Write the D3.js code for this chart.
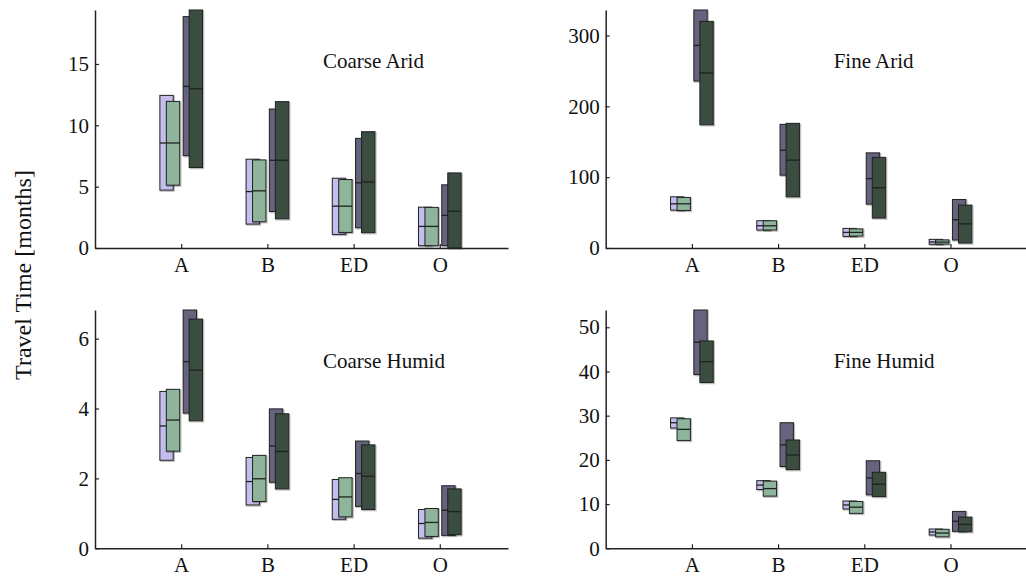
<!DOCTYPE html>
<html>
<head>
<meta charset="utf-8">
<script src="https://cdn.jsdelivr.net/npm/d3@7"></script>
<style>
body { margin: 0; background: #fff; }
text { font-family: "Liberation Serif", "Times New Roman", serif; fill: #111; }
</style>
</head>
<body>
<div id="chart"></div>
<script>
// categories on the x axis
var categories = ["A", "B", "ED", "O"];

// each panel: 4 series (light purple, light green, dark purple, dark green),
// each with [low, median, high] per category
var coarseArid = [
  [[4.72, 8.56, 12.44], [1.95, 4.60, 7.24], [1.11, 3.41, 5.69], [0.19, 1.76, 3.33]],
  [[5.12, 8.56, 11.95], [2.14, 4.66, 7.18], [1.27, 3.41, 5.58], [0.19, 1.76, 3.31]],
  [[7.53, 13.17, 18.86], [2.98, 7.15, 11.33], [1.65, 5.31, 8.94], [0.19, 2.66, 5.15]],
  [[6.56, 12.98, 19.40], [2.38, 7.15, 11.93], [1.25, 5.39, 9.48], [0.0, 3.00, 6.12]]
];
var fineArid = [
  [[53.5, 62.4, 72.3], [25.4, 31.4, 38.5], [16.4, 22.0, 27.7], [5.2, 8.5, 12.2]],
  [[53.0, 62.4, 71.4], [25.4, 31.4, 38.5], [16.8, 22.0, 27.0], [5.5, 8.3, 11.5]],
  [[235.7, 286, 336], [102.8, 138, 174.6], [62, 98, 134.3], [11.3, 40, 68.5]],
  [[174, 247, 320], [72.3, 124, 176], [42.3, 85, 128], [7, 34, 60.6]]
];
var coarseHumid = [
  [[2.52, 3.50, 4.49], [1.24, 1.91, 2.60], [0.83, 1.40, 1.97], [0.29, 0.71, 1.11]],
  [[2.78, 3.67, 4.55], [1.34, 1.99, 2.66], [0.90, 1.47, 2.02], [0.34, 0.74, 1.14]],
  [[3.87, 5.34, 6.82], [1.89, 2.93, 3.99], [1.20, 2.14, 3.07], [0.37, 1.09, 1.79]],
  [[3.65, 5.10, 6.56], [1.70, 2.77, 3.85], [1.11, 2.06, 2.96], [0.39, 1.05, 1.70]]
];
var fineHumid = [
  [[27.2, 28.4, 29.5], [13.3, 14.3, 15.3], [8.9, 9.8, 10.7], [3.0, 3.7, 4.36]],
  [[24.4, 26.9, 29.3], [11.8, 13.5, 15.2], [7.9, 9.3, 10.6], [2.6, 3.45, 4.3]],
  [[39.3, 46.6, 53.9], [18.5, 23.4, 28.4], [12.1, 15.9, 19.8], [3.84, 6.1, 8.35]],
  [[37.5, 42.2, 46.9], [17.8, 21.1, 24.5], [11.7, 14.5, 17.2], [3.75, 5.4, 7.07]]
];

var panelTitles = ["Coarse Arid", "Fine Arid", "Coarse Humid", "Fine Humid"];
var panelTicks = [[0, 5, 10, 15], [0, 100, 200, 300], [0, 2, 4, 6], [0, 10, 20, 30, 40, 50]];
var yLabel = "Travel Time [months]";

var colors = ["#c4bdee", "#8eb59b", "#67637e", "#3b4c40"];
var offsets = [-0.17, -0.095, 0.1, 0.17];
var boxW = 0.155;

// panel placement (pixel boxes of the axes)
var panels = [
  {data: coarseArid, left: 95, right: 508, top: 10, bottom: 248},
  {data: fineArid, left: 605.7, right: 1026, top: 10, bottom: 248},
  {data: coarseHumid, left: 95, right: 508, top: 310, bottom: 548.3},
  {data: fineHumid, left: 605.7, right: 1026, top: 310, bottom: 548.3}
];

var svg = d3.select("#chart").append("svg")
  .attr("width", 1026)
  .attr("height", 579);

var unit = 86.2; // px per category step
var fontFam = "'Liberation Serif', 'Times New Roman', serif";

panels.forEach(function(p, pi) {
  var x = d3.scaleLinear()
    .domain([0, (p.right - p.left) / unit])
    .range([p.left, p.right]);
  var ymax = d3.max(p.data, s => d3.max(s, d => d[2]));
  var y = d3.scaleLinear().domain([0, ymax]).range([p.bottom, p.top]);

  var g = svg.append("g");

  p.data.forEach(function(series, si) {
    var boxes = g.selectAll(".box" + si)
      .data(series)
      .enter().append("g")
      .attr("class", "box" + si);

    // faint drop shadow
    boxes.append("rect")
      .attr("x", (d, i) => x(i + 1 + offsets[si] - boxW / 2) + 1)
      .attr("y", d => y(d[2]) + 1)
      .attr("width", x(boxW) - x(0))
      .attr("height", d => y(d[0]) - y(d[2]))
      .style("fill", "none")
      .style("stroke", "rgba(0,0,0,0.25)")
      .style("stroke-width", 1.5);

    boxes.append("rect")
      .attr("x", (d, i) => x(i + 1 + offsets[si] - boxW / 2))
      .attr("y", d => y(d[2]))
      .attr("width", x(boxW) - x(0))
      .attr("height", d => y(d[0]) - y(d[2]))
      .style("fill", colors[si])
      .style("stroke", "#1e221f")
      .style("stroke-width", 1);

    boxes.append("line")
      .attr("x1", (d, i) => x(i + 1 + offsets[si] - boxW / 2))
      .attr("x2", (d, i) => x(i + 1 + offsets[si] + boxW / 2))
      .attr("y1", d => y(d[1]))
      .attr("y2", d => y(d[1]))
      .style("stroke", "#1e221f")
      .style("stroke-width", 1.3);
  });

  // y axis
  var ya = g.append("g")
    .attr("transform", "translate(" + p.left + ",0)")
    .attr("font-family", fontFam)
    .call(d3.axisLeft(y).tickValues(panelTicks[pi]).tickFormat(d3.format("d"))
      .tickSizeInner(-4).tickSizeOuter(0).tickPadding(6));
  ya.selectAll("text").style("font-size", "21px");

  // x axis
  var xa = g.append("g")
    .attr("transform", "translate(0," + p.bottom + ")")
    .attr("font-family", fontFam)
    .call(d3.axisBottom(x).tickValues([1, 2, 3, 4]).tickFormat((d, i) => categories[i])
      .tickSizeInner(-4).tickSizeOuter(0).tickPadding(9));
  xa.selectAll("text").style("font-size", "21px");

  g.selectAll(".domain").style("stroke", "#222").style("stroke-width", 1.5);
  g.selectAll(".tick line").style("stroke", "#222").style("stroke-width", 1.2);

  // panel title
  g.append("text")
    .attr("x", p.left + 228)
    .attr("y", p.top + 58)
    .style("font-size", "21px")
    .text(panelTitles[pi]);
});

svg.append("text")
  .attr("transform", "translate(31,275) rotate(-90)")
  .attr("text-anchor", "middle")
  .style("font-size", "24px")
  .text(yLabel);
</script>
</body>
</html>
